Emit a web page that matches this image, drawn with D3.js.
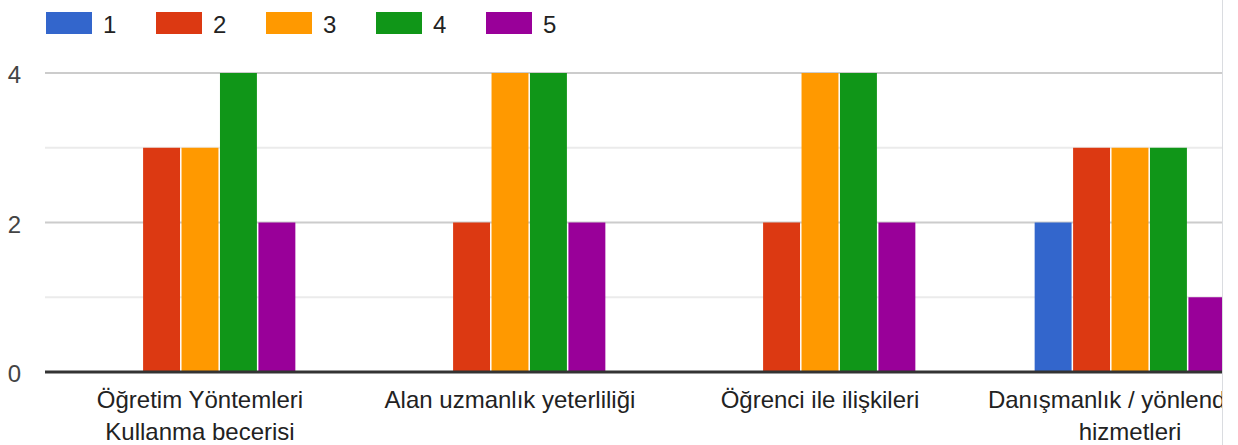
<!DOCTYPE html>
<html>
<head>
<meta charset="utf-8">
<script src="https://cdn.jsdelivr.net/npm/d3@7"></script>
<style>
  html, body { margin: 0; padding: 0; background: #fff; }
  svg { display: block; font-family: "Liberation Sans", Arial, sans-serif; }
</style>
</head>
<body>
<svg id="chart" width="1238" height="445"></svg>
<script>
const categories = [
  ["Öğretim Yöntemleri", "Kullanma becerisi"],
  ["Alan uzmanlık yeterliliği"],
  ["Öğrenci ile ilişkileri"],
  ["Danışmanlık / yönlendirme", "hizmetleri"]
];
const seriesNames = ["1", "2", "3", "4", "5"];
const series1 = [0, 0, 0, 2];
const series2 = [3, 2, 2, 3];
const series3 = [3, 4, 4, 3];
const series4 = [4, 4, 4, 3];
const series5 = [2, 2, 2, 1];
const yTicks = [0, 2, 4];
const yGrid = [1, 3];
const colors = ["#3366cc", "#dc3912", "#ff9900", "#109618", "#990099"];

const seriesValues = [series1, series2, series3, series4, series5];
const svg = d3.select("#chart");
const W = 1238, H = 445;
const plotLeft = 45, plotRight = 1285, clipRight = 1222;
const plotTop = 73, plotBottom = 372;

const x0 = d3.scaleBand().domain(d3.range(categories.length))
  .range([plotLeft, plotRight]).paddingInner(0.38).paddingOuter(0.19);
const x1 = d3.scaleBand().domain(d3.range(seriesNames.length))
  .range([0, x0.bandwidth()]);
const y = d3.scaleLinear().domain([0, 4]).range([plotBottom, plotTop]);

svg.append("defs").append("clipPath").attr("id", "clip")
  .append("rect").attr("x", 0).attr("y", 0).attr("width", clipRight).attr("height", H);

const g = svg.append("g").attr("clip-path", "url(#clip)");

// gridlines
g.selectAll(".minor").data(yGrid).join("line")
  .attr("x1", plotLeft).attr("x2", plotRight)
  .attr("y1", d => y(d)).attr("y2", d => y(d))
  .attr("stroke", "#ebebeb").attr("stroke-width", 2);
g.selectAll(".major").data(yTicks.filter(d => d !== 0)).join("line")
  .attr("x1", plotLeft).attr("x2", plotRight)
  .attr("y1", d => y(d)).attr("y2", d => y(d))
  .attr("stroke", "#cccccc").attr("stroke-width", 2);

// bars
categories.forEach((c, ci) => {
  seriesValues.forEach((vals, si) => {
    const v = vals[ci];
    if (v <= 0) return;
    g.append("rect")
      .attr("x", x0(ci) + x1(si) + 0.75)
      .attr("width", x1.bandwidth() - 1.5)
      .attr("y", y(v))
      .attr("height", y(0) - y(v))
      .attr("fill", colors[si]);
  });
});

// baseline
g.append("line").attr("x1", plotLeft).attr("x2", plotRight)
  .attr("y1", y(0)).attr("y2", y(0))
  .attr("stroke", "#333333").attr("stroke-width", 3);

// category labels
categories.forEach((lines, ci) => {
  const cx = x0(ci) + x0.bandwidth() / 2;
  lines.forEach((t, li) => {
    g.append("text").attr("x", cx).attr("y", 408 + li * 32)
      .attr("text-anchor", "middle").attr("font-size", 24).attr("fill", "#222222")
      .text(t);
  });
});

// y tick labels
svg.selectAll(".ytick").data(yTicks).join("text")
  .attr("x", 21).attr("y", d => y(d) + 10)
  .attr("text-anchor", "end").attr("font-size", 24).attr("fill", "#444444")
  .text(d => d);

// legend
const legend = svg.append("g");
seriesNames.forEach((n, i) => {
  const lx = 46 + i * 110;
  legend.append("rect").attr("x", lx).attr("y", 12).attr("width", 46).attr("height", 22)
    .attr("fill", colors[i]);
  legend.append("text").attr("x", lx + 57).attr("y", 33).attr("font-size", 24)
    .attr("fill", "#222222").text(n);
});

// right border
svg.append("line").attr("x1", clipRight + 0.5).attr("x2", clipRight + 0.5)
  .attr("y1", 0).attr("y2", H).attr("stroke", "#dadce0").attr("stroke-width", 1);
</script>
</body>
</html>
